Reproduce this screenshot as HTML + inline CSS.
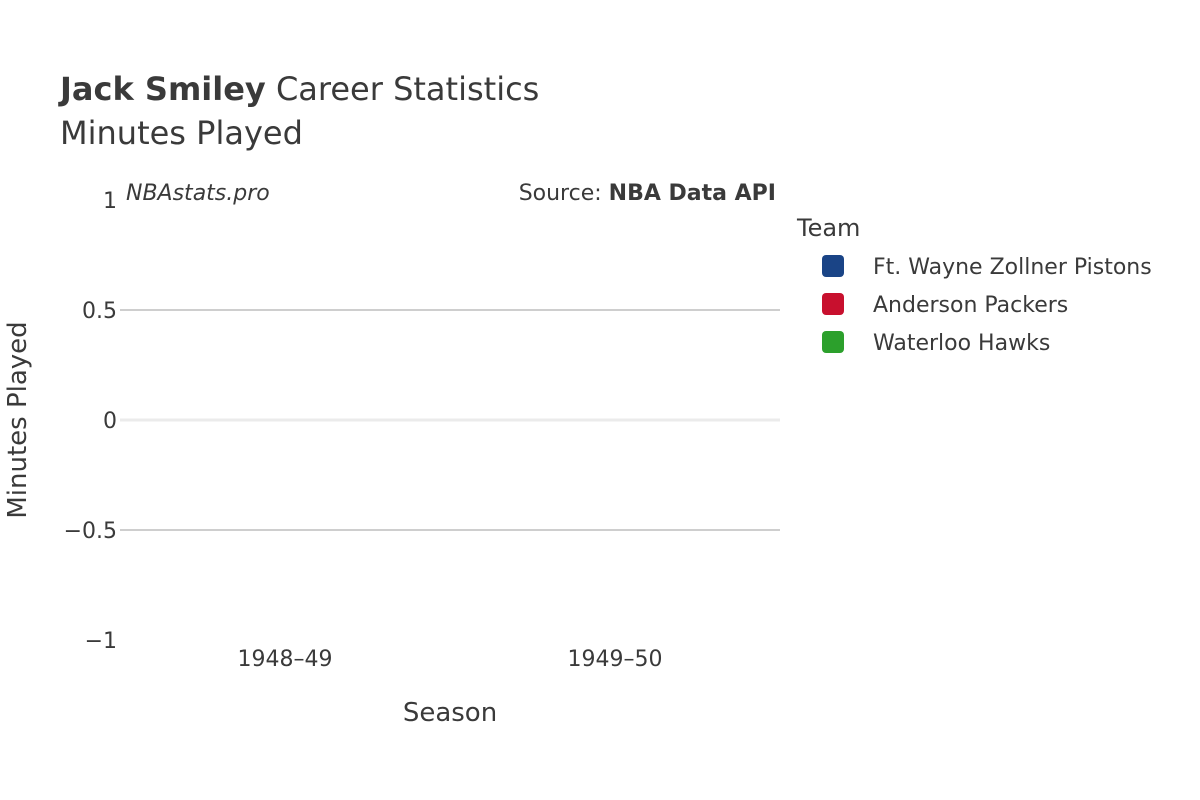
<!DOCTYPE html>
<html><head><meta charset="utf-8"><style>
body{margin:0;background:#fff;}
svg{display:block;font-family:"DejaVu Sans","Liberation Sans",sans-serif;}
</style></head><body>
<svg id="chart" width="1200" height="800" viewBox="0 0 1200 800">
<rect width="1200" height="800" fill="#fff"/>
<text x="60" y="100" font-size="32" fill="#3a3a3a"><tspan font-weight="bold">Jack Smiley</tspan> Career Statistics</text>
<text x="60" y="144" font-size="32" fill="#3a3a3a">Minutes Played</text>
<g id="grid"></g>
<g id="bars"></g>
<g id="yticks"></g>
<g id="xticks"></g>
<text x="126" y="200" font-size="22" font-style="italic" fill="#3a3a3a">NBAstats.pro</text>
<text x="776" y="200" font-size="22" text-anchor="end" fill="#3a3a3a">Source: <tspan font-weight="bold">NBA Data API</tspan></text>
<text x="450" y="721" font-size="26" text-anchor="middle" fill="#3a3a3a">Season</text>
<text x="26" y="420" font-size="26" text-anchor="middle" fill="#3a3a3a" transform="rotate(-90 26 420)">Minutes Played</text>
<text x="797" y="236" font-size="24" fill="#3a3a3a">Team</text>
<g id="legend"></g>
</svg>
<script>
const categories = ["1948–49", "1949–50"];
const teams = ["Ft. Wayne Zollner Pistons", "Anderson Packers", "Waterloo Hawks"];
const teamColors = ["#1a4486", "#c8102e", "#2ca02c"];
const minutes1948 = [0, 0, 0];
const minutes1949 = [0, 0, 0];
const yTicks = [1, 0.5, 0, -0.5, -1];
const yTickLabels = ["1", "0.5", "0", "−0.5", "−1"];

const NS = "http://www.w3.org/2000/svg";
const x0 = 120, x1 = 780, yTop = 200, yBot = 640, yMin = -1, yMax = 1;
const y = v => yBot - (v - yMin) / (yMax - yMin) * (yBot - yTop);
const band = (x1 - x0) / categories.length;
const xc = i => x0 + band * (i + 0.5);
function mk(tag, attrs, parent, txt) {
  const e = document.createElementNS(NS, tag);
  for (const k in attrs) e.setAttribute(k, attrs[k]);
  if (txt !== undefined) e.textContent = txt;
  document.getElementById(parent).appendChild(e);
  return e;
}
yTicks.forEach((t, i) => {
  if (t !== 1 && t !== -1) {
    const l = mk("line", {x1: x0, x2: x1, y1: y(t), y2: y(t), stroke: t === 0 ? "#ebebeb" : "#bdbdbd", "stroke-width": t === 0 ? 3 : 1.5}, "grid");
    
    
  }
  const tx = mk("text", {x: 117, y: y(t) + 8, "font-size": 22, "text-anchor": "end", fill: "#3a3a3a"}, "yticks", yTickLabels[i]);
  
  
});
categories.forEach((c, i) => {
  const tx = mk("text", {x: xc(i), y: 666, "font-size": 22, "text-anchor": "middle", fill: "#3a3a3a"}, "xticks", c);
  
  
});
[minutes1948, minutes1949].forEach((vals, i) => {
  const w = band * 0.8 / teams.length;
  vals.forEach((v, j) => {
    const bx = xc(i) - band * 0.4 + j * w;
    const top = Math.min(y(v), y(0)), h = Math.abs(y(v) - y(0));
    const r = mk("rect", {x: bx, y: top, width: w, height: Math.max(h, 0), fill: teamColors[j]}, "bars");
    
    
  });
});
teams.forEach((t, j) => {
  const ly = 266 + j * 38;
  const r = mk("rect", {x: 822, y: ly - 11, width: 22, height: 22, rx: 4, fill: teamColors[j]}, "legend");
  
  
  const tx = mk("text", {x: 873, y: ly + 8, "font-size": 22, fill: "#3a3a3a"}, "legend", t);
  
  
});
</script>
</body></html>
